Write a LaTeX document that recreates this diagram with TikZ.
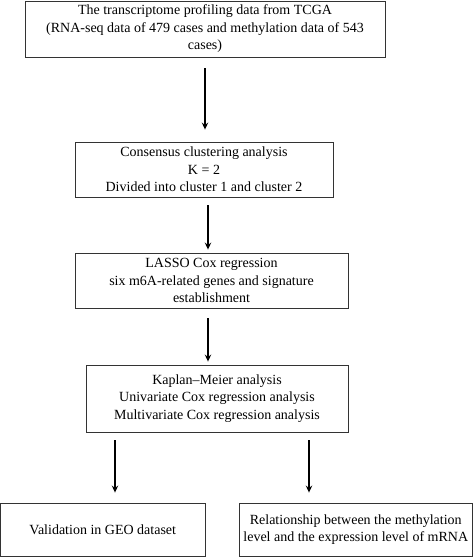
\documentclass[tikz,border=0pt]{standalone}
\usepackage{fontspec}
\setmainfont{Liberation Serif}
\usetikzlibrary{arrows.meta}
\begin{document}
\begin{tikzpicture}[x=1pt,y=-1pt,
  box/.style={draw=black!80, line width=0.9pt, inner sep=0pt, align=center,
    font=\fontsize{14}{17.5}\selectfont},
  arr/.style={-{Stealth[length=7pt,width=6.5pt,inset=2.5pt]}, line width=1.1pt}]
\useasboundingbox (0,0) rectangle (473,557);
\node[box, minimum width=360pt, minimum height=56pt] (b1) at (205,29)
  {The transcriptome profiling data from TCGA\\(RNA-seq data of 479 cases and methylation data of 543\\cases)};
\node[box, minimum width=258pt, minimum height=55pt] (b2) at (204,169.5)
  {Consensus clustering analysis\\K = 2\\Divided into cluster 1 and cluster 2};
\node[box, minimum width=273pt, minimum height=55pt] (b3) at (211.5,280.5)
  {LASSO Cox regression\\six m6A-related genes and signature\\establishment};
\node[box, minimum width=262pt, minimum height=67pt] (b4) at (217,398.5)
  {Kaplan--Meier analysis\\Univariate Cox regression analysis\\Multivariate Cox regression analysis};
\node[box, minimum width=204.5pt, minimum height=53pt] (b5) at (102.75,529.5)
  {Validation in GEO dataset};
\node[box, minimum width=233.5pt, minimum height=53pt] (b6) at (355.75,529.5)
  {Relationship between the methylation\\level and the expression level of mRNA};
\draw[arr, shorten <=11pt, shorten >=12pt] (b1.south) -- (b1.south |- b2.north);
\draw[arr, shorten <=8pt, shorten >=3pt] ([xshift=4pt]b2.south) -- ([xshift=4pt]b2.south |- b3.north);
\draw[arr, shorten <=10pt, shorten >=3pt] (b3.south -| 208,0) -- (208,0 |- b4.north);
\draw[arr, shorten <=8pt, shorten >=10pt] (b4.south -| 115,0) -- (115,0 |- b5.north);
\draw[arr, shorten <=8pt, shorten >=10pt] (b4.south -| 309,0) -- (309,0 |- b6.north);
\end{tikzpicture}
\end{document}
